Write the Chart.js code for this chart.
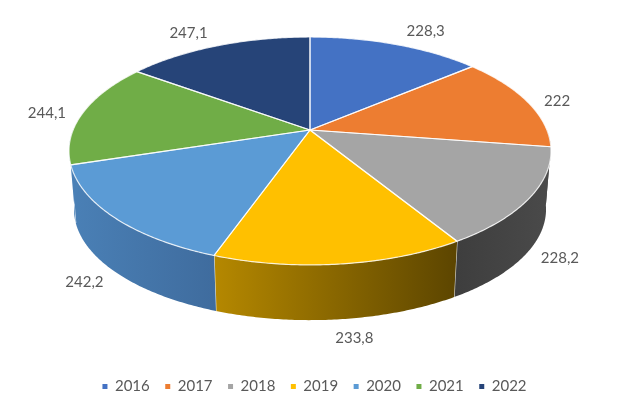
<!DOCTYPE html>
<html>
<head>
<meta charset="utf-8">
<style>
    html, body { margin: 0; padding: 0; background: #fff; }
    #wrap { width: 639px; height: 406px; }
</style>
<script src="https://cdn.jsdelivr.net/npm/chart.js@4"></script>
</head>
<body>
<div id="wrap"><canvas id="pieChart" width="639" height="406"></canvas></div>
<script>
const years = ['2016', '2017', '2018', '2019', '2020', '2021', '2022'];
const values = [228.3, 222, 228.2, 233.8, 242.2, 244.1, 247.1];
const valueLabels = ['228,3', '222', '228,2', '233,8', '242,2', '244,1', '247,1'];

const sliceColors = ['#4472C4', '#ED7D31', '#A5A5A5', '#FFC000', '#5B9BD5', '#70AD47', '#264478'];
// left and right colour of the side wall of each slice
const wallColors = [
    ['#3A62A8', '#3A62A8'], ['#404040', '#404040'], ['#3E3E3E', '#4A4A4A'], ['#B58800', '#5C4500'],
    ['#4A80B6', '#3F6C9E'], ['#4A80B6', '#4A80B6'], ['#1C3359', '#1C3359']
];
// label offset from the rim point in the middle of the slice
const labelOffsets = [[30, -13], [30, 0], [30, 61], [14, 74], [-30, 65], [-36, 0], [-29, -13]];

// perspective of the disc: top face and bottom face
const topFace = { x: 310, y: 130, a: 236.9, b: 110.1 };
const bottomFace = { x: 310, y: 189, a: 232, b: 107 };
const tilt = 0.184;

// theta is the Chart.js arc angle, -PI/2 is the top of the pie
function project(face, theta) {
    const u = Math.cos(theta);
    const q = Math.sin(theta);
    const w = 1 - tilt * q;
    return { x: face.x + face.a * u / w, y: face.y + face.b * q / w };
}

function arcPoints(face, start, end) {
    const pts = [];
    const steps = Math.max(2, Math.ceil((end - start) / 0.01));
    for (let i = 0; i <= steps; i++) {
        pts.push(project(face, start + (end - start) * i / steps));
    }
    return pts;
}

function tracePoints(ctx, pts, first) {
    pts.forEach((p, i) => {
        if (i === 0 && first) ctx.moveTo(p.x, p.y);
        else ctx.lineTo(p.x, p.y);
    });
}

const pie3d = {
    id: 'pie3d',
    beforeDatasetDraw(chart, args) {
        const ctx = chart.ctx;
        const arcs = chart.getDatasetMeta(args.index).data;

        ctx.save();

        // side walls, only the half facing the viewer
        arcs.forEach((arc, i) => {
            const start = Math.max(arc.startAngle, 0);
            const end = Math.min(arc.endAngle, Math.PI);
            if (end <= start) return;
            const upper = arcPoints(topFace, start, end);
            const lower = arcPoints(bottomFace, start, end).reverse();
            const grad = ctx.createLinearGradient(upper[upper.length - 1].x, 0, upper[0].x, 0);
            grad.addColorStop(0, wallColors[i][0]);
            grad.addColorStop(1, wallColors[i][1]);
            ctx.beginPath();
            tracePoints(ctx, upper, true);
            tracePoints(ctx, lower, false);
            ctx.closePath();
            ctx.fillStyle = grad;
            ctx.fill();
            // separator at the slice edge
            if (arc.endAngle < Math.PI && arc.endAngle > 0.6) {
                ctx.beginPath();
                ctx.moveTo(upper[upper.length - 1].x, upper[upper.length - 1].y);
                ctx.lineTo(lower[0].x, lower[0].y);
                ctx.strokeStyle = 'rgba(255,255,255,0.7)';
                ctx.lineWidth = 1.2;
                ctx.stroke();
            }
        });

        // top face
        arcs.forEach((arc, i) => {
            ctx.beginPath();
            ctx.moveTo(topFace.x, topFace.y);
            tracePoints(ctx, arcPoints(topFace, arc.startAngle, arc.endAngle), false);
            ctx.closePath();
            ctx.fillStyle = sliceColors[i];
            ctx.fill();
        });
        arcs.forEach(arc => {
            ctx.beginPath();
            ctx.moveTo(topFace.x, topFace.y);
            tracePoints(ctx, arcPoints(topFace, arc.startAngle, arc.endAngle), false);
            ctx.closePath();
            ctx.strokeStyle = 'rgba(255,255,255,0.8)';
            ctx.lineWidth = 1.2;
            ctx.lineJoin = 'round';
            ctx.stroke();
        });

        // value labels
        ctx.font = '15px Lato';
        ctx.fillStyle = '#595959';
        ctx.textAlign = 'center';
        ctx.textBaseline = 'middle';
        arcs.forEach((arc, i) => {
            const rim = project(topFace, (arc.startAngle + arc.endAngle) / 2);
            ctx.fillText(valueLabels[i], rim.x + labelOffsets[i][0], rim.y + labelOffsets[i][1]);
        });

        ctx.restore();
        return false; // the flat arcs are replaced by the drawing above
    }
};

new Chart(document.getElementById('pieChart').getContext('2d'), {
    type: 'pie',
    data: {
        labels: years,
        datasets: [{ data: values, backgroundColor: sliceColors, borderWidth: 0 }]
    },
    options: {
        responsive: false,
        animation: false,
        layout: { padding: { bottom: 2, right: 10 } },
        plugins: {
            tooltip: { enabled: false },
            legend: {
                position: 'bottom',
                labels: {
                    usePointStyle: true,
                    pointStyle: 'rect',
                    boxWidth: 5,
                    boxHeight: 5,
                    padding: 15.5,
                    color: '#595959',
                    font: { family: 'Lato', size: 15 }
                }
            }
        }
    },
    plugins: [pie3d]
});
</script>
</body>
</html>
